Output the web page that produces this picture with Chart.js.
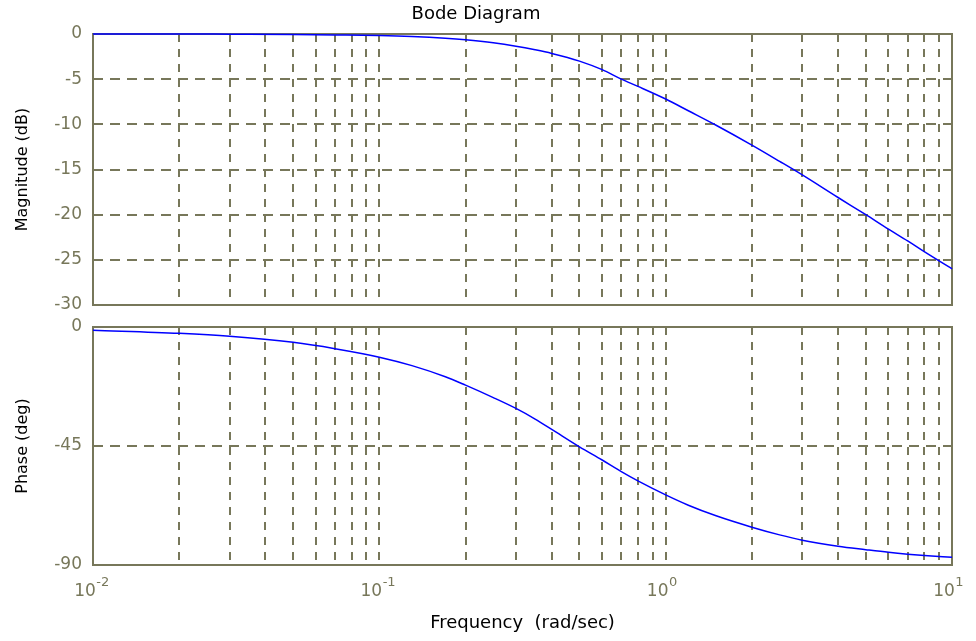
<!DOCTYPE html>
<html>
<head>
<meta charset="utf-8">
<title>Bode Diagram</title>
<script src="https://cdn.jsdelivr.net/npm/chart.js@4.4.1/dist/chart.umd.min.js"></script>
<style>
  html, body { margin: 0; padding: 0; background: #fff; }
  #wrap { position: relative; width: 976px; height: 641px; overflow: hidden; }
  #magChart { position: absolute; left: 0; top: 0; }
  #phaseChart { position: absolute; left: 0; top: 312px; }
</style>
</head>
<body>
<div id="wrap">
  <canvas id="magChart" width="976" height="318"></canvas>
  <canvas id="phaseChart" width="976" height="329"></canvas>
</div>
<script>
// response samples, rad/sec
const freq = [0.01, 0.02, 0.03, 0.05, 0.07, 0.1, 0.13, 0.17, 0.2, 0.25, 0.3, 0.35, 0.4, 0.5, 0.6, 0.7, 0.8,
              1, 1.2, 1.5, 2, 2.5, 3, 4, 5, 6, 7, 8, 10];
const magnitude = [0, 0, -0.02, -0.05, -0.1, -0.17, -0.28, -0.47, -0.64, -0.97, -1.35, -1.75, -2.15, -3.0, -3.95, -5.0, -5.8,
                   -7.2, -8.5, -10.1, -12.3, -14.1, -15.6, -18.1, -20.0, -21.6, -22.9, -24.1, -26.0];
const phase = [-1.2, -2.4, -3.5, -5.8, -8.2, -11.4, -14.6, -18.8, -22.0, -26.7, -30.8, -34.8, -38.7, -45.3, -50.3, -54.7, -58.2,
               -63.5, -67.4, -71.4, -75.7, -78.6, -80.6, -82.9, -84.2, -85.2, -85.9, -86.4, -87.1];

// axis ticks
const magTicks = [0, -5, -10, -15, -20, -25, -30];
const phaseTicks = [0, -45, -90];
const freqGrid = [
  0.01, 0.02, 0.03, 0.04, 0.05, 0.06, 0.07, 0.08, 0.09,
  0.1, 0.2, 0.3, 0.4, 0.5, 0.6, 0.7, 0.8, 0.9,
  1, 2, 3, 4, 5, 6, 7, 8, 9, 10
];
const decades = [0.01, 0.1, 1, 10];
const decadeBase = ['10', '10', '10', '10'];
const decadeExp = ['-2', '-1', '0', '1'];

const FONT = "'DejaVu Sans', Verdana, sans-serif";
const AXIS = '#77775a';

// solid box around each plot area, under the curve
const frame = {
  id: 'frame',
  beforeDatasetsDraw(chart) {
    const { ctx, chartArea: a } = chart;
    ctx.save();
    ctx.strokeStyle = AXIS;
    ctx.lineWidth = 2;
    ctx.strokeRect(a.left, a.top, a.right - a.left, a.bottom - a.top);
    ctx.restore();
  }
};

// raised powers next to the "10" labels on the frequency axis
const exponents = {
  id: 'exponents',
  afterDraw(chart) {
    const s = chart.scales.x;
    if (!s.options.ticks.display) return;
    const ctx = chart.ctx;
    ctx.save();
    ctx.font = '17px ' + FONT;
    const baseW = ctx.measureText('10').width;
    ctx.font = '13px ' + FONT;
    ctx.fillStyle = AXIS;
    ctx.textAlign = 'left';
    ctx.textBaseline = 'alphabetic';
    const y = s.top + 21;
    decades.forEach((d, i) => {
      const x = s.getPixelForValue(d) + s.options.ticks.labelOffset + baseW / 2 + 0.5;
      ctx.fillText(decadeExp[i], x, y);
    });
    ctx.restore();
  }
};

function makePanel(id, values, yTicks, yTitle, bottom) {
  const points = freq.map((f, i) => ({ x: f, y: values[i] }));
  return new Chart(document.getElementById(id), {
    type: 'line',
    data: {
      datasets: [{
        data: points,
        borderColor: '#0000ff',
        borderWidth: 1.5,
        pointRadius: 0,
        cubicInterpolationMode: 'monotone',
        clip: false
      }]
    },
    options: {
      responsive: false,
      animation: false,
      layout: bottom
        ? { padding: { left: 0, right: 24, top: 15, bottom: 0 } }
        : { padding: { left: 0, right: 24, top: 0, bottom: 13 } },
      plugins: {
        legend: { display: false },
        tooltip: { enabled: false },
        title: {
          display: !bottom,
          text: 'Bode Diagram',
          color: '#000',
          font: { family: FONT, size: 18, weight: 'normal' },
          padding: { top: 4, bottom: 8.4 }
        }
      },
      scales: {
        x: {
          type: 'logarithmic',
          min: 0.01,
          max: 10,
          afterBuildTicks: s => { s.ticks = freqGrid.map(v => ({ value: v })); },
          afterFit: s => {
            s.height = bottom ? 76 : 0;
            s.paddingLeft = 0; s.paddingRight = 0;
          },
          grid: { color: AXIS, lineWidth: 2, drawTicks: false },
          border: { display: false, dash: [8, 7] },
          ticks: {
            display: bottom,
            autoSkip: false,
            maxRotation: 0,
            padding: 16,
            labelOffset: -8,
            color: AXIS,
            font: { family: FONT, size: 17 },
            callback: v => {
              const i = decades.indexOf(v);
              return i < 0 ? '' : decadeBase[i];
            }
          },
          title: {
            display: bottom,
            text: 'Frequency  (rad/sec)',
            color: '#000',
            font: { family: FONT, size: 18 },
            padding: { top: 0, bottom: 7 }
          }
        },
        y: {
          type: 'linear',
          min: yTicks[yTicks.length - 1],
          max: yTicks[0],
          afterBuildTicks: s => { s.ticks = yTicks.map(v => ({ value: v })); },
          afterFit: s => {
            s.width = 93;
            s.paddingTop = 0; s.paddingBottom = 0;
          },
          grid: { color: AXIS, lineWidth: 2, drawTicks: false },
          border: { display: false, dash: [10, 7] },
          ticks: {
            padding: 11,
            color: AXIS,
            font: { family: FONT, size: 17 }
          },
          title: {
            display: true,
            text: yTitle,
            color: '#000',
            font: { family: FONT, size: 16 },
            padding: { top: 13, bottom: 0 }
          }
        }
      }
    },
    plugins: [frame, exponents]
  });
}

makePanel('magChart', magnitude, magTicks, 'Magnitude (dB)', false);
makePanel('phaseChart', phase, phaseTicks, 'Phase (deg)', true);
</script>
</body>
</html>
